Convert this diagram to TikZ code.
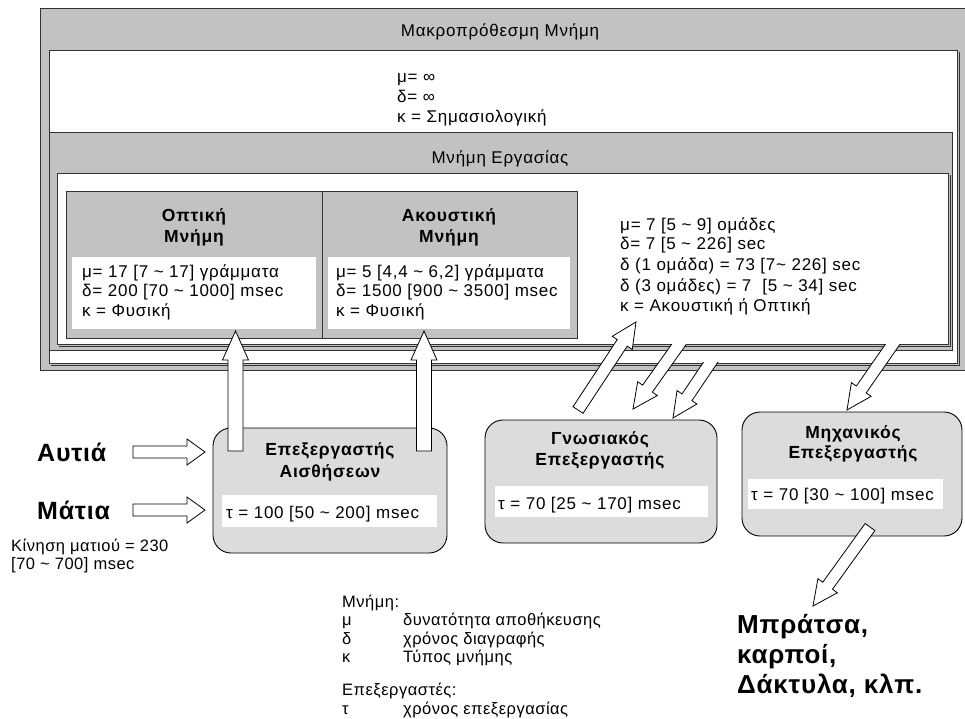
\documentclass[tikz,border=0pt]{standalone}
\usepackage{fontspec}
\setmainfont{Liberation Sans}[LetterSpace=3]
\newfontfamily\uifont{Liberation Sans}[LetterSpace=4.5]
\usetikzlibrary{calc}

\definecolor{framegray}{HTML}{C2C2C2}
\definecolor{procgray}{HTML}{DCDCDC}
\definecolor{edgegray}{HTML}{333333}

\newcommand{\tildechar}{\textasciitilde}

% closed hollow block arrow: tail, tip, shaft half-width, head half-width, head length
\newcommand{\blockarrow}[5]{%
  \coordinate (ba-h) at ($(#2)!#5!(#1)$);
  \filldraw[hollowarrow] ($(#1)!#3!90:(#2)$) -- ($(ba-h)!#3!90:(#2)$) -- ($(ba-h)!#4!90:(#2)$) -- (#2)
    -- ($(ba-h)!#4!-90:(#2)$) -- ($(ba-h)!#3!-90:(#2)$) -- ($(#1)!#3!-90:(#2)$) -- cycle;}

\begin{document}
\begin{tikzpicture}[x=1pt,y=-1pt,line join=miter,
  frameline/.style={draw=edgegray,line width=0.9pt},
  hollowarrow/.style={draw=black,fill=white,line width=0.8pt},
  procbox/.style={draw=black,fill=procgray,line width=0.9pt,rounded corners=18pt},
  plain/.style={inner sep=0pt,anchor=base west,font=\uifont\fontsize{17}{20}\selectfont},
  plainc/.style={inner sep=0pt,anchor=base,font=\uifont\fontsize{17}{20}\selectfont},
  legend/.style={inner sep=0pt,anchor=base west,font=\fontsize{16.5}{20}\selectfont},
  ctitle/.style={inner sep=0pt,anchor=base,font=\uifont\fontsize{17.5}{21}\selectfont\bfseries},
  big/.style={inner sep=0pt,anchor=base west,font=\fontsize{25}{30}\selectfont\bfseries},
  bigger/.style={inner sep=0pt,anchor=base west,font=\fontsize{26}{30}\selectfont\bfseries}]

\useasboundingbox (0,0) rectangle (965,718);
\fill[white] (0,0) rectangle (965,718);

% ---- long-term memory frame ----
\filldraw[frameline,fill=framegray] (40,8) rectangle (975,370);
\node[plainc] (ltmtitle) at (500,36) {Μακροπρόθεσμη Μνήμη};
\draw[frameline] (51,365.5) -- (959.5,365.5) -- (959.5,52);
\filldraw[frameline,fill=white] (49,50) rectangle (957,363);
\node[plain] (ltm1) at (397,82) {μ= ∞};
\node[plain] (ltm2) at (397,102) {δ= ∞};
\node[plain] (ltm3) at (397,122) {κ = Σημασιολογική};

% ---- working memory frame ----
\filldraw[frameline,fill=framegray] (49,132) rectangle (952,350);
\node[plainc] (wmtitle) at (500,163) {Μνήμη Εργασίας};
\draw[frameline] (59,346.5) -- (950.5,346.5) -- (950.5,175);
\filldraw[frameline,fill=white] (57,173) rectangle (948,344.5);

% visual and auditory stores
\filldraw[frameline,fill=framegray] (66,191) rectangle (577,338);
\draw[frameline] (322,191) -- (322,338);
\fill[white] (72,257) rectangle (316,329);
\fill[white] (328,257) rectangle (570,329);
\node[ctitle] (vist1) at (194,221) {Οπτική};
\node[ctitle] (vist2) at (194,242) {Μνήμη};
\node[ctitle] (audt1) at (449,221) {Ακουστική};
\node[ctitle] (audt2) at (449,242) {Μνήμη};
\node[plain] (vis1) at (82,277) {μ= 17 [7 \tildechar\ 17] γράμματα};
\node[plain] (vis2) at (82,296) {δ= 200 [70 \tildechar\ 1000] msec};
\node[plain] (vis3) at (82,316) {κ = Φυσική};
\node[plain] (aud1) at (336,277) {μ= 5 [4,4 \tildechar\ 6,2] γράμματα};
\node[plain] (aud2) at (336,296) {δ= 1500 [900 \tildechar\ 3500] msec};
\node[plain] (aud3) at (336,316) {κ = Φυσική};

% working memory parameters
\node[plain] (wm1) at (620,230) {μ= 7 [5 \tildechar\ 9] ομάδες};
\node[plain] (wm2) at (620,249) {δ= 7 [5 \tildechar\ 226] sec};
\node[plain] (wm3) at (620,270) {δ (1 ομάδα) = 73 [7\tildechar\ 226] sec};
\node[plain] (wm4) at (620,291) {δ (3 ομάδες) = 7 \ [5 \tildechar\ 34] sec};
\node[plain] (wm5) at (620,311) {κ = Ακουστική ή Οπτική};

% ---- perceptual processor ----
\draw[procbox] (213,428) rectangle (447,553);
\fill[white] (222,495) rectangle (437,527);
\node[ctitle] (sens1) at (330,455) {Επεξεργαστής};
\node[ctitle] (sens2) at (330,477) {Αισθήσεων};
\node[plain] (senst) at (226,518) {τ = 100 [50 \tildechar\ 200] msec};

% ---- cognitive processor ----
\draw[procbox] (485,420) rectangle (717,543);
\fill[white] (495,486) rectangle (708,517);
\node[ctitle] (cog1) at (600,444) {Γνωσιακός};
\node[ctitle] (cog2) at (600,465) {Επεξεργαστής};
\node[plain] (cogt) at (498,509) {τ = 70 [25 \tildechar\ 170] msec};

% ---- motor processor ----
\draw[procbox] (742,412) rectangle (962,536);
\fill[white] (748,479) rectangle (943,509);
\node[ctitle] (mot1) at (853,438) {Μηχανικός};
\node[ctitle] (mot2) at (853,458) {Επεξεργαστής};
\node[plain] (mott) at (751,500) {τ = 70 [30 \tildechar\ 100] msec};

% ---- senses ----
\node[big] (ears) at (37,461) {Αυτιά};
\node[big] (eyes) at (37,519) {Μάτια};
\node[legend] (sacc1) at (11,551) {Κίνηση ματιού = 230};
\node[legend] (sacc2) at (11,569) {[70 \tildechar\ 700] msec};

% ---- arrows ----
\coordinate (earT) at (133,452); \coordinate (earP) at (205,452);
\coordinate (eyeT) at (133,510); \coordinate (eyeP) at (205,510);
\blockarrow{earT}{earP}{6pt}{13pt}{18pt}
\blockarrow{eyeT}{eyeP}{6pt}{13pt}{18pt}

\coordinate (visT) at (235.5,451); \coordinate (visP) at (235.5,331);
\coordinate (audT) at (424,451); \coordinate (audP) at (424,331);
\blockarrow{visT}{visP}{7.5pt}{13pt}{29pt}
\blockarrow{audT}{audP}{7.5pt}{13pt}{29pt}

\coordinate (cogUpT) at (578,410); \coordinate (cogUpP) at (636,322);
\blockarrow{cogUpT}{cogUpP}{6pt}{12pt}{25pt}

\coordinate (wmDnT) at (684.5,336.5); \coordinate (wmDnP) at (633,409);
\blockarrow{wmDnT}{wmDnP}{6pt}{12pt}{25pt}
\fill[white] (660,330) rectangle (705,343.9);

\coordinate (ltmDnT) at (715.5,355); \coordinate (ltmDnP) at (673,418);
\blockarrow{ltmDnT}{ltmDnP}{6pt}{12pt}{25pt}
\fill[white] (690,350.6) rectangle (735,362.4);

\coordinate (motInT) at (897.7,337); \coordinate (motInP) at (847,410);
\blockarrow{motInT}{motInP}{6pt}{12pt}{25pt}
\fill[white] (875,330) rectangle (920,343.9);

\coordinate (motOutT) at (870,527); \coordinate (motOutP) at (813,606);
\blockarrow{motOutT}{motOutP}{6pt}{12pt}{25pt}

% ---- effectors ----
\node[bigger] (out1) at (737,633) {Μπράτσα,};
\node[bigger] (out2) at (737,663) {καρποί,};
\node[bigger] (out3) at (737,693) {Δάκτυλα, κλπ.};

% ---- legend ----
\node[legend] (lg0) at (342,607) {Μνήμη:};
\node[legend] (lg1) at (342,625) {μ};
\node[legend] (lg1t) at (403,625) {δυνατότητα αποθήκευσης};
\node[legend] (lg2) at (342,644) {δ};
\node[legend] (lg2t) at (403,644) {χρόνος διαγραφής};
\node[legend] (lg3) at (342,662) {κ};
\node[legend] (lg3t) at (403,662) {Τύπος μνήμης};
\node[legend] (lg4) at (342,695) {Επεξεργαστές:};
\node[legend] (lg5) at (342,714) {τ};
\node[legend] (lg5t) at (403,714) {χρόνος επεξεργασίας};
\end{tikzpicture}
\end{document}
